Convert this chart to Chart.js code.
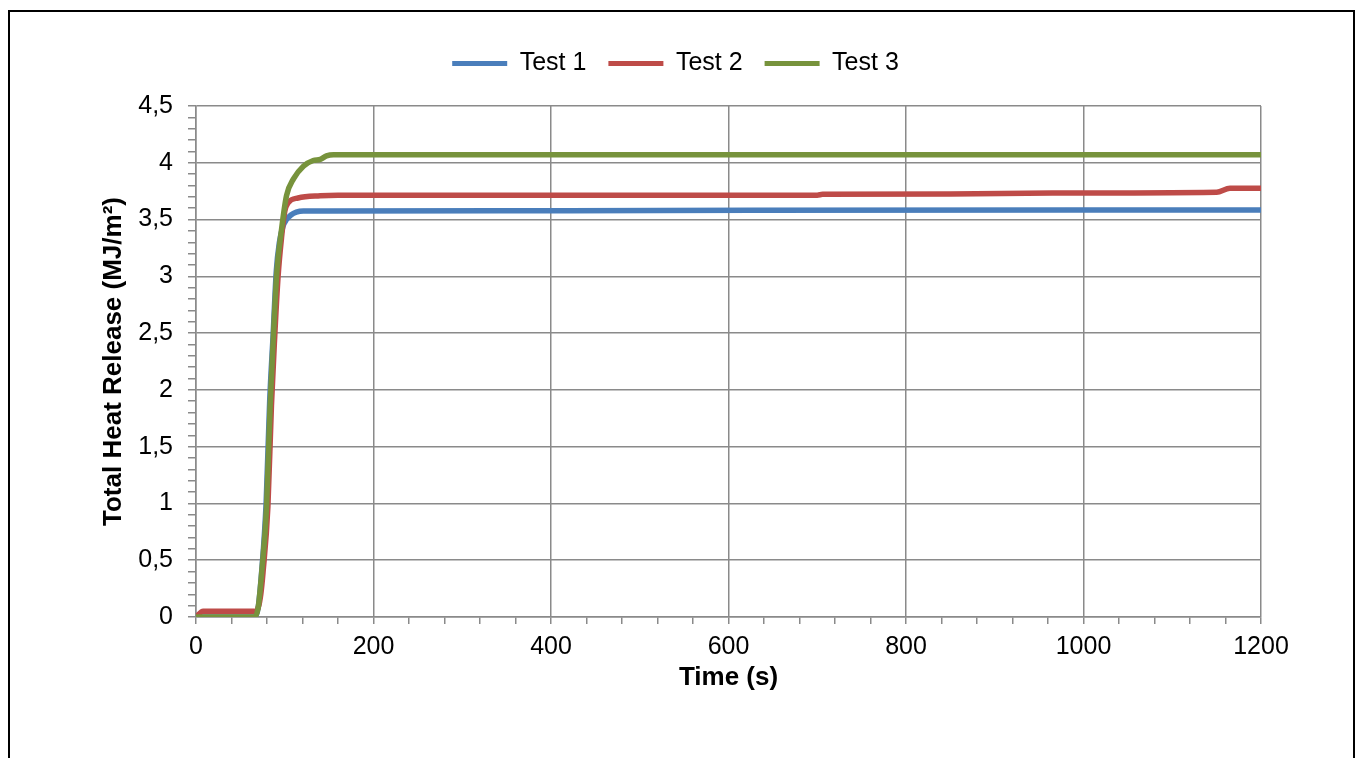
<!DOCTYPE html>
<html lang="en">
<head>
    <meta charset="UTF-8">
    <title>Total Heat Release</title>
    <script src="https://cdn.jsdelivr.net/npm/chart.js"></script>
    <style>
        html, body { margin: 0; padding: 0; background: #fff; overflow: hidden; }
        .frame { position: absolute; left: 8px; top: 10px; width: 1343px; height: 800px; border: 2px solid #000; }
        .chart-box { position: absolute; left: 0; top: 0; width: 1361px; height: 758px; }
    </style>
</head>
<body>
    <div class="frame"></div>
    <div class="chart-box"><canvas id="thr-chart"></canvas></div>

    <script>
    // Time (s) and total heat release (MJ/m²)
    const time1 = [0, 66, 70, 74, 79, 83, 87, 90.5, 94, 98, 102, 107, 113, 121, 140, 420, 985, 1200];
    const thr1  = [0, 0, 0.08, 0.4, 1.0, 1.9, 2.5, 3.05, 3.3, 3.44, 3.5, 3.54, 3.565, 3.575, 3.575, 3.578, 3.585, 3.585];

    const time2 = [0, 8, 66, 70, 73, 75.5, 81, 85, 88.5, 92.5, 96.5, 100, 104, 115, 140, 160, 700, 706, 850, 965, 1150, 1165, 1200];
    const thr2  = [0, 0.05, 0.05, 0.08, 0.2, 0.39, 0.97, 1.86, 2.44, 3.0, 3.35, 3.57, 3.65, 3.69, 3.71, 3.715, 3.715, 3.722, 3.725, 3.733, 3.74, 3.775, 3.775];

    const time3 = [0, 66, 70, 74, 79.5, 83.5, 87, 91, 96.5, 102, 110, 121, 132, 140, 147, 155, 1200];
    const thr3  = [0, 0, 0.08, 0.39, 0.97, 1.86, 2.44, 3.03, 3.42, 3.71, 3.86, 3.97, 4.02, 4.03, 4.06, 4.07, 4.07];

    const seriesNames = ['Test 1', 'Test 2', 'Test 3'];
    const seriesColors = ['#4a7ebb', '#be4b48', '#77933c'];

    const gridGray = '#8a8a8a';
    const tickFont = { family: '"Liberation Sans", Arial, sans-serif', size: 25 };
    const titleFont = { family: '"Liberation Sans", Arial, sans-serif', size: 26, weight: 'bold' };

    function pts(xs, ys) {
        return xs.map((x, i) => ({ x: x, y: ys[i] }));
    }

    function makeSet(i, xs, ys) {
        return {
            label: seriesNames[i],
            data: pts(xs, ys),
            borderColor: seriesColors[i],
            backgroundColor: seriesColors[i],
            borderWidth: 5.5,
            pointRadius: 0,
            cubicInterpolationMode: 'monotone',
            borderCapStyle: 'round',
            borderJoinStyle: 'round',
            order: 3 - i   // Test 3 drawn on top
        };
    }

    // is the value a multiple of step (float-safe)
    function isMajor(v, step) {
        const r = v / step;
        return Math.abs(r - Math.round(r)) < 1e-6;
    }

    // push the plot area down below the legend
    const legendGap = {
        id: 'legendGap',
        beforeInit(chart) {
            const origFit = chart.legend.fit;
            chart.legend.fit = function () {
                origFit.bind(chart.legend)();
                this.height += 20;
            };
        }
    };

    new Chart(document.getElementById('thr-chart'), {
        type: 'line',
        data: {
            datasets: [
                makeSet(0, time1, thr1),
                makeSet(1, time2, thr2),
                makeSet(2, time3, thr3)
            ]
        },
        options: {
            responsive: true,
            maintainAspectRatio: false,
            animation: false,
            layout: { padding: { left: 90, right: 100, top: 29, bottom: 40 } },
            plugins: {
                tooltip: { enabled: false },
                legend: {
                    position: 'top',
                    labels: {
                        font: tickFont,
                        color: '#000',
                        boxWidth: 55,
                        boxHeight: 5,
                        padding: 22,
                        sort: (a, b) => a.datasetIndex - b.datasetIndex,
                        generateLabels: chart => Chart.defaults.plugins.legend.labels.generateLabels(chart)
                            .map(l => Object.assign(l, { lineWidth: 0 }))
                    }
                }
            },
            scales: {
                x: {
                    type: 'linear',
                    min: 0,
                    max: 1200,
                    afterFit: s => { s.height = 101; },
                    ticks: {
                        stepSize: 40,
                        autoSkip: false,
                        maxRotation: 0,
                        color: '#000',
                        font: tickFont,
                        padding: 8,
                        callback: v => isMajor(v, 200) ? String(v) : ''
                    },
                    grid: {
                        color: c => isMajor(c.tick.value, 200) ? gridGray : 'rgba(0,0,0,0)',
                        lineWidth: 1.5,
                        tickColor: gridGray,
                        tickLength: 7
                    },
                    border: { color: gridGray, width: 1.5 },
                    title: {
                        display: true,
                        text: 'Time (s)',
                        color: '#000',
                        font: titleFont,
                        padding: { top: 0, bottom: 25 }
                    }
                },
                y: {
                    min: 0,
                    max: 4.5,
                    afterFit: s => { s.width = 106; },
                    ticks: {
                        stepSize: 0.1,
                        autoSkip: false,
                        color: '#000',
                        font: tickFont,
                        padding: 15,
                        callback: v => isMajor(v, 0.5) ? String(Math.round(v * 10) / 10).replace('.', ',') : ''
                    },
                    grid: {
                        color: c => isMajor(c.tick.value, 0.5) ? gridGray : 'rgba(0,0,0,0)',
                        lineWidth: 1.5,
                        tickColor: gridGray,
                        tickLength: 8
                    },
                    border: { color: gridGray, width: 1.5 },
                    title: {
                        display: true,
                        text: 'Total Heat Release (MJ/m²)',
                        color: '#000',
                        font: titleFont,
                        padding: { top: 8, bottom: 0 }
                    }
                }
            }
        },
        plugins: [legendGap]
    });
    </script>
</body>
</html>
